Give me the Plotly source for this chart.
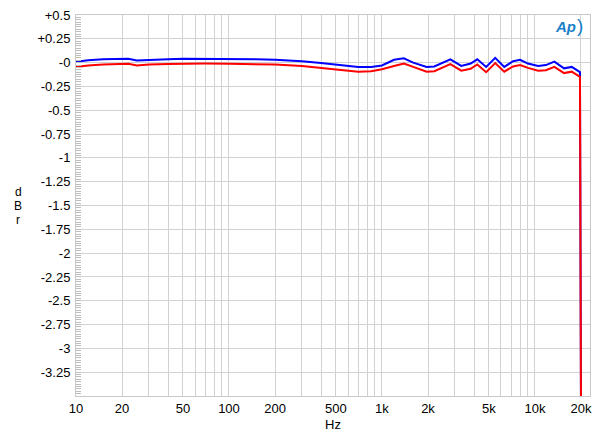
import plotly.graph_objects as go

freq = [10, 12, 15, 20, 22, 25, 30, 40, 50, 70, 100, 150, 200, 300, 400, 525, 700, 850,
        1000, 1200, 1390, 1600, 1960, 2200, 2800, 3300, 3800, 4200, 4800, 5500, 6300,
        7200, 8000, 9000, 10500, 11800, 13400, 15500, 17400, 19700, 20000]
blue = [0.01, 0.025, 0.035, 0.04, 0.04, 0.022, 0.03, 0.035, 0.04, 0.04, 0.038, 0.035, 0.03,
        0.015, -0.005, -0.025, -0.047, -0.045, -0.03, 0.03, 0.045, 0.0, -0.045, -0.04,
        0.035, -0.035, -0.01, 0.035, -0.045, 0.05, -0.045, 0.015, 0.03, -0.01, -0.036,
        -0.026, 0.01, -0.06, -0.045, -0.1, -3.6]
red = [-0.047, -0.03, -0.02, -0.012, -0.012, -0.03, -0.02, -0.015, -0.012, -0.01, -0.012,
       -0.015, -0.02, -0.035, -0.055, -0.075, -0.095, -0.09, -0.07, -0.035, -0.01, -0.045,
       -0.095, -0.09, -0.015, -0.085, -0.065, -0.02, -0.1, -0.005, -0.095, -0.04, -0.025,
       -0.055, -0.085, -0.08, -0.045, -0.11, -0.095, -0.15, -3.6]

x_grid = [m * 10 ** e for e in range(1, 5) for m in range(1, 10) if m * 10 ** e <= 22000]
x_labels = {10: "10", 20: "20", 50: "50", 100: "100", 200: "200", 500: "500",
            1000: "1k", 2000: "2k", 5000: "5k", 10000: "10k", 20000: "20k"}
y_vals = [0.5 - 0.25 * i for i in range(17)]
y_text = ["+0.5", "+0.25", "-0"] + ["%g" % v for v in y_vals[3:16]] + [""]

fig = go.Figure()
fig.add_trace(go.Scatter(x=freq, y=blue, mode="lines", line=dict(color="#0000ff", width=2)))
fig.add_trace(go.Scatter(x=freq, y=red, mode="lines", line=dict(color="#ff0000", width=2)))

font = dict(family="Liberation Sans, Arial, sans-serif", size=13, color="#000")
fig.update_layout(
    width=600, height=439,
    margin=dict(l=76, r=8, t=9, b=43),
    plot_bgcolor="white", paper_bgcolor="white",
    showlegend=False, font=font,
    xaxis=dict(type="log", range=[1, 4.36], tickvals=x_grid,
               ticktext=[x_labels.get(v, "") for v in x_grid],
               showgrid=True, gridcolor="#d2d2d2", gridwidth=1,
               showline=True, linecolor="#c8c8c8", mirror=True, ticks="",
               zeroline=False, title=dict(text="Hz", font=font, standoff=5)),
    yaxis=dict(range=[-3.5, 0.5], tickvals=y_vals, ticktext=y_text,
               showgrid=True, gridcolor="#d2d2d2", gridwidth=1,
               showline=True, linecolor="#c8c8c8", mirror=True,
               ticks="inside", ticklen=5, tickwidth=1, tickcolor="#bdbdbd",
               zeroline=False, ticklabelstandoff=2,
               minor=dict(dtick=0.025, tick0=0, ticks="inside", ticklen=5, tickwidth=1,
                          tickcolor="#bdbdbd", showgrid=False)),
)
for i, ch in enumerate(["d", "B", "r"]):
    fig.add_annotation(text=ch, xref="paper", yref="paper", x=-0.112,
                       y=(396 - (189 + 14 * i)) / 387, showarrow=False,
                       font=dict(family="Liberation Sans, Arial, sans-serif", size=12, color="#000"),
                       xanchor="center", yanchor="middle")
fig.add_annotation(text="<b><i>Ap</i></b>", xref="paper", yref="paper", x=0.952, y=0.97,
                   showarrow=False, xanchor="center", yanchor="middle",
                   font=dict(family="Liberation Sans, Arial, sans-serif", size=15, color="#1a7fc8"))
fig.add_annotation(text=")", xref="paper", yref="paper", x=0.98, y=0.972,
                   showarrow=False, xanchor="center", yanchor="middle",
                   font=dict(family="Liberation Sans, Arial, sans-serif", size=19, color="#1a7fc8"))
fig.write_html("out.html")
